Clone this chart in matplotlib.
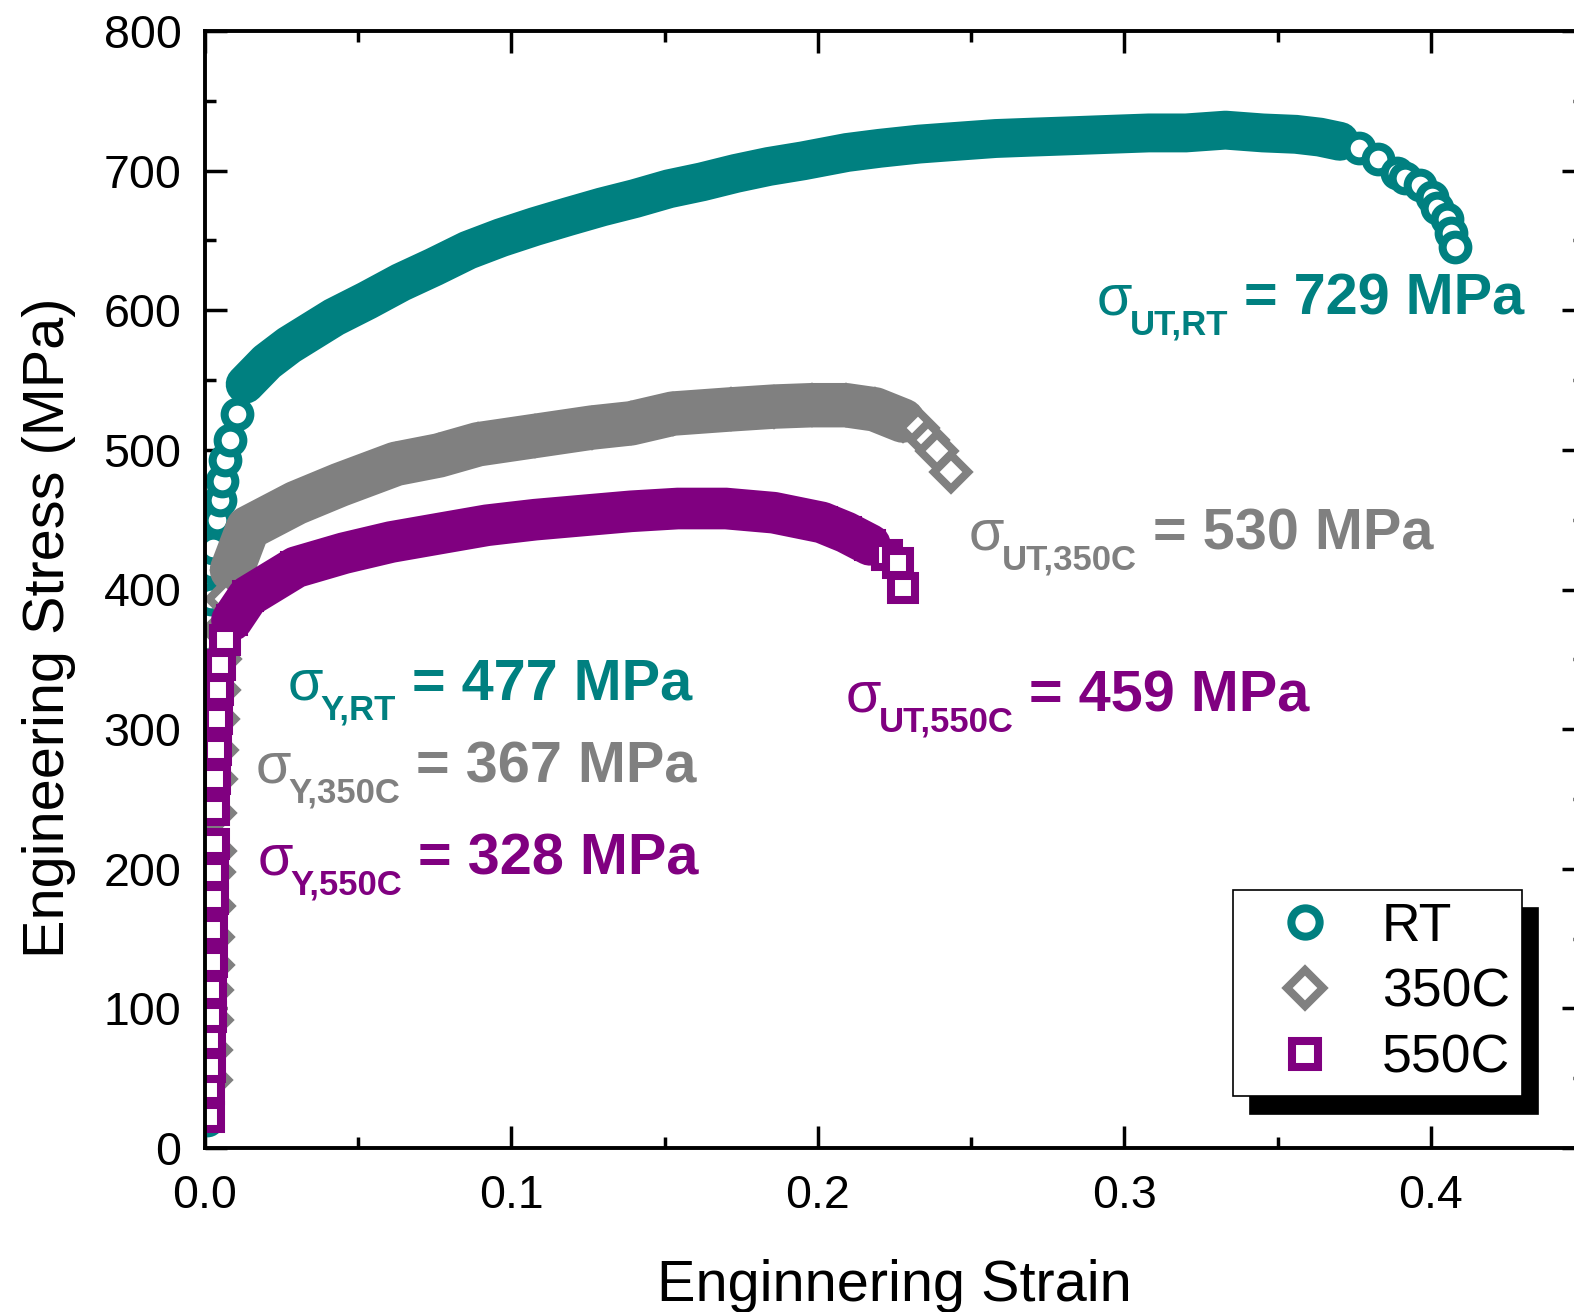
import numpy as np
import matplotlib.pyplot as plt
from matplotlib.ticker import MultipleLocator

plt.rcParams['font.family'] = ['Liberation Sans', 'DejaVu Sans']

# engineering strain / stress
rt_strain = [0.0007, 0.0010, 0.0010, 0.0013, 0.0013, 0.0013, 0.0016, 0.0016, 0.0016,
             0.0020, 0.0020, 0.0020, 0.0020, 0.0020, 0.0022, 0.0026, 0.0039, 0.0049,
             0.0055, 0.0065, 0.0082, 0.0104,
             0.0131, 0.0202, 0.0274, 0.0421, 0.0529, 0.0639, 0.0747, 0.0858, 0.0966,
             0.1077, 0.1184, 0.1295, 0.1403, 0.1514, 0.1622, 0.1732, 0.1840, 0.1951,
             0.2095, 0.2202, 0.2330, 0.2454, 0.2580, 0.2701, 0.2830, 0.2953, 0.3080,
             0.3201, 0.3330, 0.3452, 0.3560, 0.3638, 0.3703, 0.3765, 0.3827,
             0.3889, 0.3915, 0.3964, 0.4003, 0.4020, 0.4052, 0.4065, 0.4078]
rt_stress = [20, 49, 77, 106, 135, 163, 192, 221, 249,
             278, 307, 335, 364, 393, 416, 430, 450, 464,
             478, 493, 507, 526,
             547, 563, 575, 595, 607, 620, 631, 643, 652,
             660, 667, 674, 680, 687, 692, 698, 703, 707,
             713, 716, 719, 721, 723, 724, 725, 726, 727,
             727, 729, 727, 726, 724, 721, 716, 708,
             698, 695, 690, 681, 673, 665, 655, 645]

c350_strain = [0.0020, 0.0020, 0.0023, 0.0023, 0.0026, 0.0026, 0.0029, 0.0029, 0.0033,
               0.0033, 0.0036, 0.0039, 0.0042, 0.0046, 0.0049, 0.0055, 0.0069,
               0.0088, 0.0140, 0.0297, 0.0440, 0.0623, 0.0763, 0.0891, 0.1077, 0.1263,
               0.1390, 0.1527, 0.1716, 0.1856, 0.1980, 0.2091, 0.2186, 0.2277,
               0.2326, 0.2359, 0.2388, 0.2434]
c350_stress = [49, 70, 92, 113, 131, 151, 173, 198, 213,
               240, 264, 285, 307, 328, 350, 371, 393,
               414, 444, 462, 475, 490, 496, 504, 510, 516,
               519, 526, 529, 531, 532, 532, 529, 521,
               516, 507, 499, 484]

c550_strain = [0.0013, 0.0013, 0.0016, 0.0016, 0.0020, 0.0020, 0.0023, 0.0023, 0.0026,
               0.0026, 0.0029, 0.0029, 0.0033, 0.0036, 0.0039, 0.0042, 0.0049, 0.0065,
               0.0088, 0.0140, 0.0297, 0.0453, 0.0607, 0.0763, 0.0920, 0.1077, 0.1233,
               0.1390, 0.1543, 0.1700, 0.1856, 0.2013, 0.2091, 0.2170,
               0.2225, 0.2261, 0.2277]
c550_stress = [22, 42, 58, 77, 94, 113, 133, 156, 178,
               197, 218, 242, 264, 285, 307, 328, 346, 364,
               378, 395, 416, 426, 434, 440, 446, 450, 453,
               456, 458, 458, 455, 448, 441, 432,
               425, 419, 401]

series = [
    ('RT', rt_strain, rt_stress, '#008080', 'o', 18.5, 22, 55, 28),
    ('350C', c350_strain, c350_stress, '#808080', 'D', 17.0, 17, 34, 32),
    ('550C', c550_strain, c550_stress, '#800080', 's', 17.0, 18, 34, 30),
]

fig = plt.figure(figsize=(15.74, 13.12), dpi=100)
ax = fig.add_axes([205 / 1574, 164 / 1312, 1379 / 1574, 1117 / 1312])

handles = []
for name, xs, ys, col, mk, ms, i0, i1, lw in series:
    xs = np.array(xs)
    ys = np.array(ys)
    # dense part of the record: overlapping markers form a solid band
    ax.plot(xs[i0:i1], ys[i0:i1], '-', color=col, lw=lw,
            solid_capstyle='round', solid_joinstyle='round')
    ax.plot(xs[i0:i1], ys[i0:i1], mk, color=col, ms=ms, mfc=col, mec=col, mew=5.8)
    sparse = np.r_[0:i0, i1:len(xs)]
    h, = ax.plot(xs[sparse], ys[sparse], mk, color=col, ms=ms, mfc='white',
                 mec=col, mew=5.8, ls='none', label=name)
    handles.append(h)

ax.set_xlim(0, 0.45)
ax.set_ylim(0, 800)
ax.set_xticks([0.0, 0.1, 0.2, 0.3, 0.4])
ax.set_xticklabels(['0.0', '0.1', '0.2', '0.3', '0.4'])
ax.set_yticks(np.arange(0, 801, 100))
ax.xaxis.set_minor_locator(MultipleLocator(0.05))
ax.yaxis.set_minor_locator(MultipleLocator(50))
ax.tick_params(which='both', direction='in', top=True, right=True, width=2.5)
ax.tick_params(which='major', length=16, labelsize=33.5)
ax.tick_params(which='minor', length=8)
ax.tick_params(axis='x', pad=19)
ax.tick_params(axis='y', pad=17)
for sp in ax.spines.values():
    sp.set_linewidth(2.8)

ax.set_ylabel('Engineering Stress (MPa)', fontsize=41.5)
ax.yaxis.set_label_coords(-0.0935, 0.466)
ax.set_xlabel('Enginnering Strain', fontsize=41.5)
ax.xaxis.set_label_coords(0.5, -0.099)


def stress_label(x, y, sub, value, color):
    s = ax.text(x, y, 'σ', fontsize=41.5, color=color, ha='left', va='baseline')
    t = ax.annotate(sub, xy=(1, 0), xycoords=s, xytext=(-2, -5.7),
                    textcoords='offset points', fontsize=25, fontweight='bold',
                    color=color, ha='left', va='baseline')
    ax.annotate(' = ' + value + ' MPa', xy=(1, 0), xycoords=t, xytext=(0, 19.6),
                textcoords='offset points', fontsize=41.5, fontweight='bold',
                color=color, ha='left', va='baseline')


stress_label(0.2910, 596.7, 'UT,RT', '729', '#008080')
stress_label(0.2493, 428.4, 'UT,350C', '530', '#808080')
stress_label(0.2091, 312.3, 'UT,550C', '459', '#800080')
stress_label(0.0271, 320.9, 'Y,RT', '477', '#008080')
stress_label(0.0166, 261.5, 'Y,350C', '367', '#808080')
stress_label(0.0173, 195.6, 'Y,550C', '328', '#800080')

leg = ax.legend(handles=handles, loc='upper left',
                bbox_to_anchor=((1233 - 205) / 1379, (1148 - 890) / 1117),
                borderaxespad=0, fancybox=False, edgecolor='black', framealpha=1,
                fontsize=38.5, handlelength=2.25, handletextpad=0.31, borderpad=0.22,
                labelspacing=0.3, markerscale=1.1,
                shadow={'ox': 12, 'oy': -13, 'facecolor': 'black',
                        'edgecolor': 'black', 'alpha': 1})
leg.get_frame().set_linewidth(1.2)

plt.savefig('out.png', dpi=100)
